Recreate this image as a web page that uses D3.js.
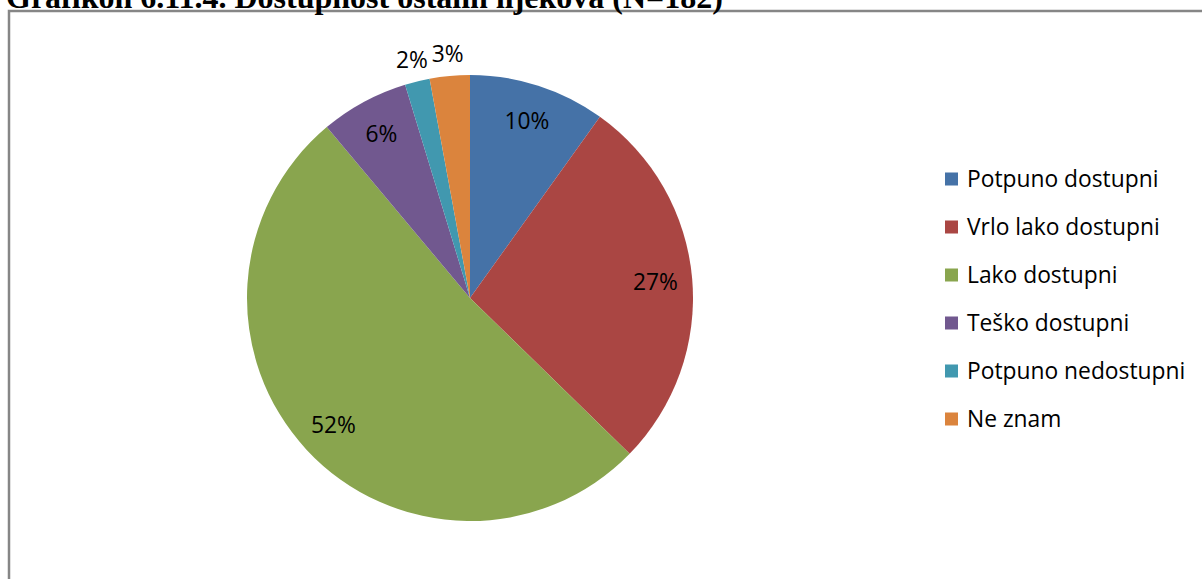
<!DOCTYPE html>
<html><head><meta charset="utf-8">
<script src="https://cdn.jsdelivr.net/npm/d3@7"></script>
<style>body{margin:0;background:#fff;overflow:hidden}svg{display:block}</style>
</head><body>
<svg id="c" width="1202" height="579"></svg>
<script>
const titleText = "Grafikon 6.11.4. Dostupnost ostalih lijekova (N=182)";
const categories = ["Potpuno dostupni","Vrlo lako dostupni","Lako dostupni","Teško dostupni","Potpuno nedostupni","Ne znam"];
const values = [9.9, 27.4, 51.6, 6.4, 1.8, 2.9];
const labels = ["10%","27%","52%","6%","2%","3%"];
const colors = ["#4572A7","#AA4643","#89A54E","#71588F","#4198AF","#DB843D"];

const svg = d3.select("#c");
svg.append("rect").attr("x",9).attr("y",11).attr("width",1300).attr("height",700)
  .attr("fill","none").attr("stroke","#868686").attr("stroke-width",2.5);
svg.append("text").attr("x",6).attr("y",8).text(titleText)
  .attr("font-family","Liberation Serif, Times New Roman, serif").attr("font-weight","bold")
  .attr("font-size",32).attr("fill","#000");

const cx=470, cy=298, R=223;
const data = categories.map((c,i)=>({c, v:values[i], l:labels[i], col:colors[i]}));
const pie = d3.pie().sort(null).value(d=>d.v);
const arcs = pie(data);
const arc = d3.arc().innerRadius(0).outerRadius(R);
const g = svg.append("g").attr("transform",`translate(${cx},${cy})`);
g.selectAll("path").data(arcs).join("path").attr("d",arc).attr("fill",d=>d.data.col);

const FONT = "Open Sans, Noto Sans, sans-serif";
g.selectAll("text.lab").data(arcs).join("text").attr("class","lab")
  .attr("transform",d=>{
    const a=(d.startAngle+d.endAngle)/2;
    const r = (d.endAngle-d.startAngle) < 0.25 ? R*1.1 : R*0.835;
    return `translate(${Math.sin(a)*r},${-Math.cos(a)*r})`;
  })
  .attr("text-anchor","middle").attr("dy","0.36em")
  .attr("font-family",FONT).attr("font-size",22.8).attr("fill","#000")
  .text(d=>d.data.l);

const leg = svg.append("g");
const ly = d3.scalePoint().domain(categories).range([179,419]);
const items = leg.selectAll("g").data(data).join("g").attr("transform",d=>`translate(945,${ly(d.c)})`);
items.append("rect").attr("x",0).attr("y",-6.5).attr("width",13).attr("height",13).attr("fill",d=>d.col);
items.append("text").attr("x",22).attr("y",0).attr("dy","0.36em")
  .attr("font-family",FONT).attr("font-size",22.8).attr("fill","#000")
  .text(d=>d.c);
</script>
</body></html>
